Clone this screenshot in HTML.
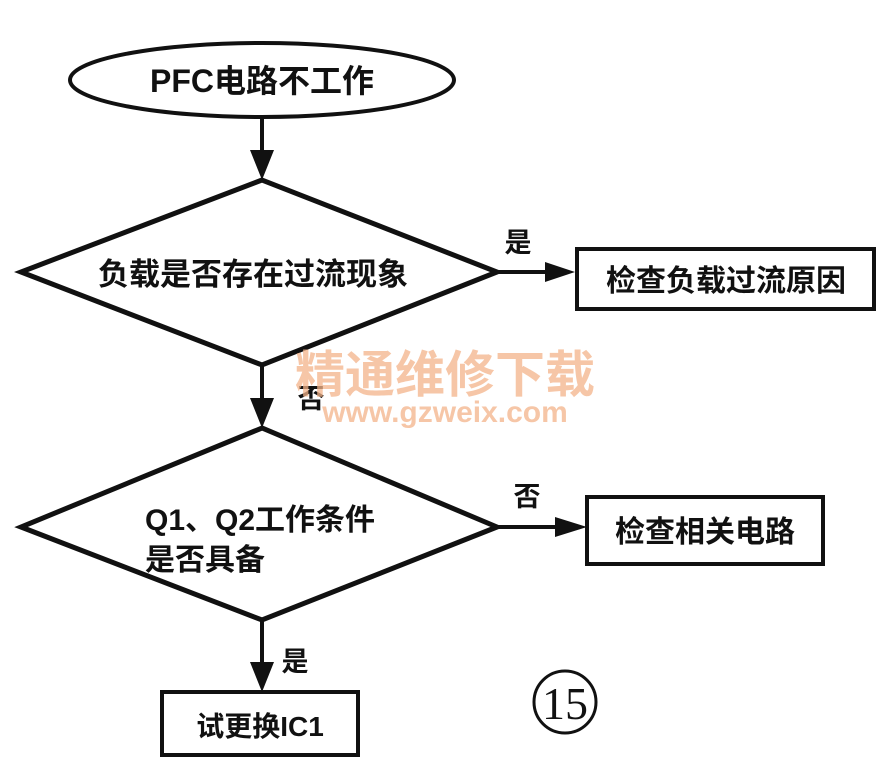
<!DOCTYPE html>
<html><head><meta charset="utf-8"><style>
body{margin:0;background:#fff;}
svg{display:block;}
text{font-family:"Liberation Sans","Noto Sans CJK SC",sans-serif;font-weight:bold;fill:#111;}
</style></head><body>
<svg width="893" height="769" viewBox="0 0 893 769" xmlns="http://www.w3.org/2000/svg">
<g stroke="#111" stroke-width="4" fill="none">
<ellipse cx="262" cy="80" rx="192" ry="37"/>
<line x1="262" y1="118" x2="262" y2="160"/>
<polygon points="262,180 21,272 262,365 497,272" stroke-width="5"/>
<line x1="497" y1="272" x2="550" y2="272"/>
<rect x="577" y="249" width="297" height="60"/>
<line x1="262" y1="365" x2="262" y2="405"/>
<polygon points="262,428 21,527 262,620 497,527" stroke-width="5"/>
<line x1="497" y1="527" x2="560" y2="527"/>
<rect x="587" y="497" width="236" height="67"/>
<line x1="262" y1="620" x2="262" y2="670"/>
<rect x="162" y="692" width="196" height="63"/>
<circle cx="565" cy="702" r="31" stroke-width="3"/>
</g>
<g fill="#111">
<polygon points="250,150 274,150 262,180"/>
<polygon points="545,262 545,282 575,272"/>
<polygon points="250,398 274,398 262,428"/>
<polygon points="555,517 555,537 587,527"/>
<polygon points="250,662 274,662 262,692"/>
</g>
<text x="262" y="92" font-size="32" text-anchor="middle">PFC电路不工作</text>
<text x="253" y="285" font-size="31" text-anchor="middle">负载是否存在过流现象</text>
<text x="518" y="252" font-size="27" text-anchor="middle">是</text>
<text x="726" y="291" font-size="30" text-anchor="middle">检查负载过流原因</text>
<text x="311" y="408" font-size="27" text-anchor="middle">否</text>
<text x="145" y="530" font-size="30">Q1、Q2工作条件</text>
<text x="145" y="570" font-size="30">是否具备</text>
<text x="527" y="506" font-size="27" text-anchor="middle">否</text>
<text x="705" y="542" font-size="30" text-anchor="middle">检查相关电路</text>
<text x="295" y="671" font-size="27" text-anchor="middle">是</text>
<text x="260" y="736" font-size="28" text-anchor="middle">试更换IC1</text>
<text x="565" y="719" font-size="46" text-anchor="middle" style="font-family:'Liberation Serif',serif;font-weight:normal">15</text>
<text x="445" y="392" font-size="50" text-anchor="middle" style="fill:#f4b48a;opacity:0.75">精通维修下载</text>
<text x="445" y="422" font-size="30" text-anchor="middle" style="fill:#f4b48a;opacity:0.75">www.gzweix.com</text>
</svg>
</body></html>
